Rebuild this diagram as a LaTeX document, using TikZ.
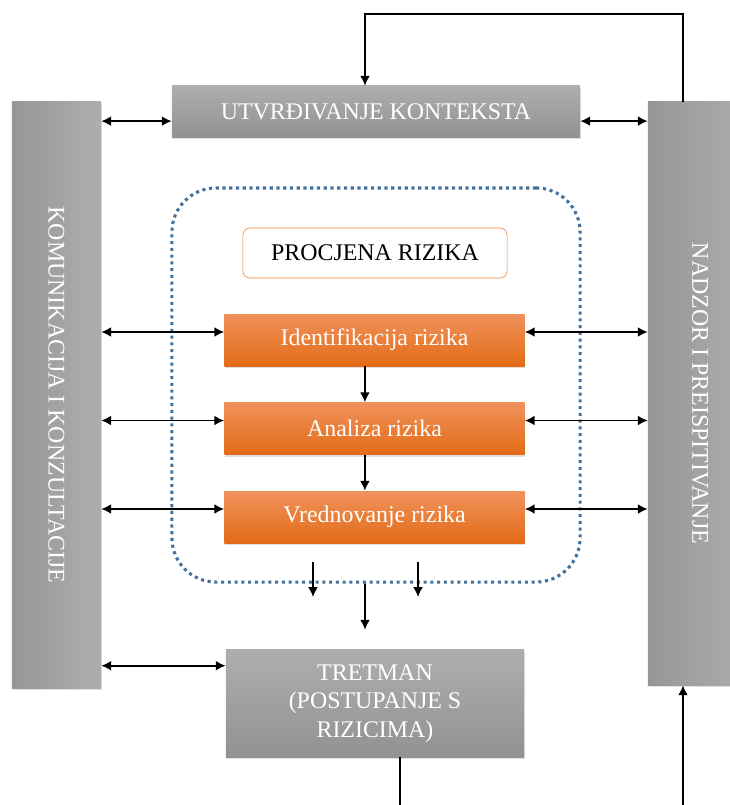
\documentclass[tikz,border=0pt]{standalone}
\usepackage{fontspec}
\setmainfont{Liberation Serif}
\usetikzlibrary{arrows,arrows.meta,shadows}

\definecolor{sivagore}{RGB}{174,174,174}
\definecolor{sivadole}{RGB}{146,146,146}
\definecolor{trakalijevo}{RGB}{150,150,150}
\definecolor{trakadesno}{RGB}{174,174,174}
\definecolor{narancagore}{RGB}{240,146,92}
\definecolor{narancasredina}{RGB}{242,125,44}
\definecolor{narancadole}{RGB}{227,107,22}
\definecolor{okvirplava}{RGB}{65,113,156}
\definecolor{rubnaranca}{RGB}{237,125,49}

\begin{document}
\begin{tikzpicture}[x=0.025cm, y=-0.025cm, >={Latex[length=7pt, width=7pt]}, font=\fontsize{17}{20.5}\selectfont]
\tikzstyle{sjena}=[drop shadow={opacity=0.25, shadow xshift=0.6pt, shadow yshift=-1.5pt}]
\tikzstyle{siva}=[rectangle, top color=sivagore, bottom color=sivadole, text=white, sjena]
\tikzstyle{traka}=[rectangle, left color=trakalijevo, right color=trakadesno, sjena]
\tikzstyle{tekst}=[rotate=-90, text=white]
\tikzstyle{korak}=[rectangle, top color=narancagore, middle color=narancasredina, bottom color=narancadole, text=white, minimum width=7.5cm, minimum height=1.3cm, sjena]
\tikzstyle{strelica}=[line width=1.2pt]

\useasboundingbox (0,0) rectangle (730,805);

% Bocne trake
\node at (56.5, 395) [traka, minimum width=2.225cm, minimum height=14.65cm, label={[tekst]center:KOMUNIKACIJA I KONZULTACIJE}] (komunikacija) {};
\node at (700, 393.5) [traka, minimum width=2.6cm, minimum height=14.575cm, label={[tekst]center:NADZOR I PREISPITIVANJE}] (nadzor) {};

% Kontekst
\node at (376, 111.5) [siva, minimum width=10.2cm, minimum height=1.275cm] (kontekst) {UTVRĐIVANJE KONTEKSTA};

% Procjena rizika
\node at (376, 385) [draw=okvirplava, line width=2.2pt, dash pattern=on 2.2pt off 2.6pt, rounded corners=1.1cm, minimum width=10.2cm, minimum height=9.85cm] (okvir) {};
\node at (375, 253) [draw=rubnaranca, fill=white, rounded corners=5pt, minimum width=6.6cm, minimum height=1.25cm] (procjena) {PROCJENA RIZIKA};

\foreach \x/\t in {1/Identifikacija rizika, 2/Analiza rizika, 3/Vrednovanje rizika}
\node at (374.5, 251.5+\x*88.5) [korak] (korak_\x) {\t};

% Tretman
\node at (375, 703.5) [siva, minimum width=7.45cm, minimum height=2.675cm, align=center] (tretman) {TRETMAN\\(POSTUPANJE S\\RIZICIMA)};

% Strelice lijevo i desno
\coordinate (k_l) at ([yshift=-0.24cm]kontekst.west);
\coordinate (k_d) at ([yshift=-0.24cm]kontekst.east);
\draw [strelica, <->] (k_l -| komunikacija.east) -- (k_l);
\draw [strelica, <->] (k_d) -- (k_d -| nadzor.west);

\foreach \x in {1,2,3}
{
\coordinate (l_\x) at ([yshift=0.2cm]korak_\x.west);
\coordinate (d_\x) at ([yshift=0.2cm]korak_\x.east);
\draw [strelica, <->] (l_\x -| komunikacija.east) -- (l_\x);
\draw [strelica, <->] (d_\x) -- (d_\x -| nadzor.west);
}

\coordinate (t_l) at ([yshift=-0.4cm]tretman.north west);
\draw [strelica, <->] (t_l -| komunikacija.east) -- (t_l);

% Strelice dolje
\foreach \x [count=\y from 2] in {1,2}
\draw [strelica, ->] ([xshift=-0.24cm]korak_\x.south) -- ([xshift=-0.24cm]korak_\y.north);

\coordinate (izlaz_1) at (313, 562);
\coordinate (ulaz_1) at (313, 597);
\coordinate (izlaz_2) at (418, 562);
\coordinate (ulaz_2) at (418, 597);
\foreach \x in {1,2}
\draw [strelica, ->] (izlaz_\x) -- (ulaz_\x);
\draw [strelica, ->] ([xshift=-0.275cm]okvir.south) -- ([xshift=-0.25cm, yshift=0.5cm]tretman.north);

% Povratne veze
\coordinate (vrh) at (683, 14);
\draw [strelica, ->] (nadzor.north -| vrh) -- (vrh) -| ([xshift=-0.275cm]kontekst.north);
\coordinate (dno_l) at (400, 810);
\coordinate (dno_d) at (683, 810);
\draw [strelica] (tretman.south -| dno_l) -- (dno_l);
\draw [strelica, ->] (dno_d) -- (nadzor.south -| dno_d);
\end{tikzpicture}
\end{document}
